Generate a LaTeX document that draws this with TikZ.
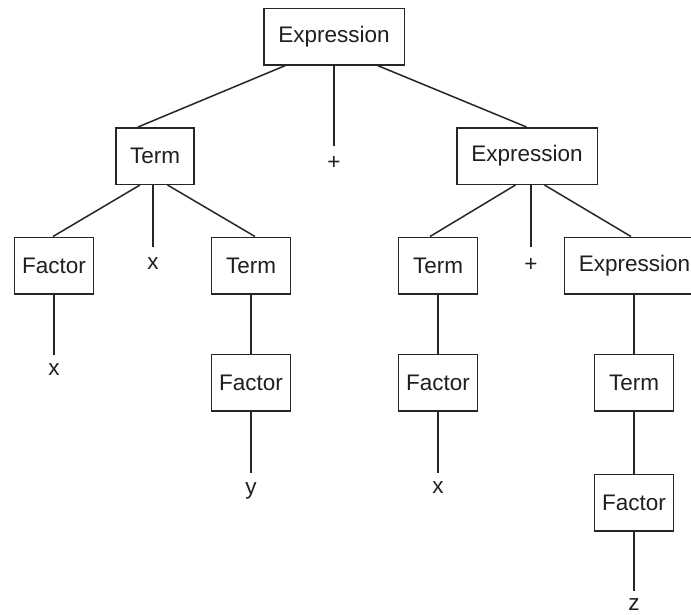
\documentclass[tikz,border=0pt]{standalone}
\usepackage{fontspec}
\setmainfont{Liberation Sans}
\begin{document}
\begin{tikzpicture}[x=1pt,y=-1pt,
  box/.style={draw=black!85, line width=1.5pt, inner sep=0pt, minimum height=56.5pt,
    font=\fontsize{22.5}{25}\selectfont, text=black!88},
  wbox/.style={box, minimum width=140.5pt},
  nbox/.style={box, minimum width=79pt},
  lbl/.style={inner sep=0pt, anchor=north, text height=21pt, text depth=0pt,
    font=\fontsize{22.5}{25}\selectfont, text=black!88},
  conn/.style={draw=black!85, line width=1.5pt}]
\useasboundingbox (0,0) rectangle (691,614);
\fill[white!97!red!2] (0,0) rectangle (691,614);
\begin{scope}
\clip (0,0) rectangle (691,614);
% boxes
\node[wbox] (e0) at (334,36.5) {Expression};
\node[nbox, minimum width=78pt] (t1) at (155,156) {Term};
\node[wbox] (e1) at (527,156) {Expression};
\node[nbox] (f2a) at (54,265.5) {Factor};
\node[nbox] (t2a) at (251,265.5) {Term};
\node[nbox] (t2b) at (438,265.5) {Term};
\node[wbox] (e2) at (634.5,265.5) {Expression};
\node[nbox] (f3a) at (251,382.5) {Factor};
\node[nbox] (f3b) at (438,382.5) {Factor};
\node[nbox] (t3c) at (634,382.5) {Term};
\node[nbox] (f4c) at (634,502.5) {Factor};
% terminal labels
\node[lbl, text height=23.5pt] (p0) at (334,145.5) {+};
\node[lbl, text height=22.6pt] (x1) at (153,246.7) {x};
\node[lbl, text height=24.5pt] (p1) at (531,246.7) {+};
\node[lbl, text height=20.5pt] (x2a) at (54,355) {x};
\node[lbl] (yy) at (251,473.3) {y};
\node[lbl, text height=20pt] (x3b) at (438,473.3) {x};
\node[lbl, text height=19pt] (zz) at (634,591) {z};
% connectors
\draw[conn] ([xshift=-48.5pt]e0.south) -- ([xshift=-17pt]t1.north);
\draw[conn] (e0.south) -- (p0.north);
\draw[conn] ([xshift=43.5pt]e0.south) -- ([xshift=-0.5pt]e1.north);
\draw[conn] ([xshift=-15pt]t1.south) -- ([xshift=-1pt]f2a.north);
\draw[conn] ([xshift=-2pt]t1.south) -- (x1.north);
\draw[conn] ([xshift=12.5pt]t1.south) -- ([xshift=4pt]t2a.north);
\draw[conn] ([xshift=-11.5pt]e1.south) -- ([xshift=-8pt]t2b.north);
\draw[conn] ([xshift=4pt]e1.south) -- (p1.north);
\draw[conn] ([xshift=17.5pt]e1.south) -- ([xshift=-3.5pt]e2.north);
\draw[conn] (f2a.south) -- (x2a.north);
\draw[conn] (t2a.south) -- (f3a.north);
\draw[conn] (f3a.south) -- (yy.north);
\draw[conn] (t2b.south) -- (f3b.north);
\draw[conn] (f3b.south) -- (x3b.north);
\draw[conn] ([xshift=-0.5pt]e2.south) -- (t3c.north);
\draw[conn] (t3c.south) -- (f4c.north);
\draw[conn] (f4c.south) -- (zz.north);
\end{scope}
\end{tikzpicture}
\end{document}
